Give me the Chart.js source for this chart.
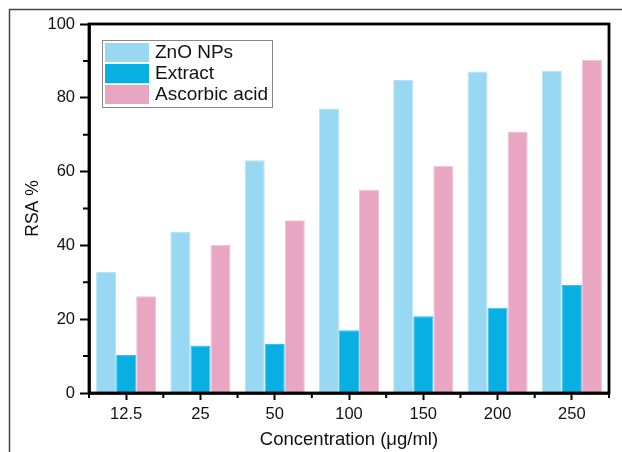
<!DOCTYPE html>
<html>
<head>
<meta charset="utf-8">
<script src="https://cdn.jsdelivr.net/npm/chart.js@4.4.1/dist/chart.umd.min.js"></script>
<style>
  html, body { margin: 0; padding: 0; background: #fff; }
  #wrap { width: 622px; height: 452px; position: relative; }
</style>
</head>
<body>
<div id="wrap"><canvas id="rsaChart" width="622" height="452"></canvas></div>
<script>
// values
const concentrations = ["12.5", "25", "50", "100", "150", "200", "250"];
const znoNPs = [32.8, 43.6, 63.1, 77.1, 84.8, 87.1, 87.3];
const extract = [10.3, 12.9, 13.3, 17.0, 20.8, 23.1, 29.3];
const ascorbicAcid = [26.2, 40.2, 46.8, 55.1, 61.6, 70.9, 90.3];
const yTicks = [0, 20, 40, 60, 80, 100];

const FONT = "'Liberation Sans', Arial, sans-serif";

// frame, box, minor ticks and the in-plot legend
const decorations = {
  id: "decorations",
  beforeDraw(chart) {
    const ctx = chart.ctx;
    ctx.save();
    ctx.strokeStyle = "#444";
    ctx.lineWidth = 1.5;
    ctx.beginPath();
    ctx.moveTo(9.5, 460);
    ctx.lineTo(9.5, 9.5);
    ctx.lineTo(630, 9.5);
    ctx.stroke();
    ctx.restore();
  },
  afterDraw(chart) {
    const ctx = chart.ctx;
    const a = chart.chartArea;
    const x = chart.scales.x;
    const y = chart.scales.y;
    ctx.save();
    ctx.strokeStyle = "#000";
    ctx.lineWidth = 2.8;
    ctx.strokeRect(a.left, a.top, a.right - a.left, a.bottom - a.top);

    // minor y ticks at the odd tens
    ctx.lineWidth = 2;
    ctx.beginPath();
    for (let v = 10; v < 100; v += 20) {
      const py = y.getPixelForValue(v);
      ctx.moveTo(a.left, py);
      ctx.lineTo(a.left - 6, py);
    }
    // minor x ticks between groups
    for (let i = 0; i <= concentrations.length; i++) {
      const px = x.getPixelForValue(i - 0.5);
      ctx.moveTo(px, a.bottom);
      ctx.lineTo(px, a.bottom + 5);
    }
    ctx.stroke();

    // legend box
    const lx = 102, ly = 40, lw = 170, lh = 67;
    ctx.fillStyle = "#fff";
    ctx.fillRect(lx, ly, lw, lh);
    ctx.strokeStyle = "#888";
    ctx.lineWidth = 1;
    ctx.strokeRect(lx + 0.5, ly + 0.5, lw, lh);
    ctx.font = "19px " + FONT;
    ctx.textBaseline = "middle";
    chart.data.datasets.forEach((ds, i) => {
      const ry = ly + 3 + i * 21;
      ctx.fillStyle = ds.backgroundColor;
      ctx.fillRect(lx + 3, ry, 44, 19);
      ctx.fillStyle = "#111";
      ctx.fillText(ds.label, lx + 53, ry + 10);
    });
    ctx.restore();
  }
};

new Chart(document.getElementById("rsaChart"), {
  type: "bar",
  data: {
    labels: concentrations,
    datasets: [
      { label: "ZnO NPs", data: znoNPs, backgroundColor: "#99d8f2", borderColor: "#b5e3f6", borderWidth: 1 },
      { label: "Extract", data: extract, backgroundColor: "#08afe2", borderColor: "#3cc0ea", borderWidth: 1 },
      { label: "Ascorbic acid", data: ascorbicAcid, backgroundColor: "#e9a6c2", borderColor: "#f0bfd3", borderWidth: 1 }
    ]
  },
  options: {
    responsive: false,
    animation: false,
    layout: { padding: { left: 0, top: 24, right: 13, bottom: 0 } },
    datasets: { bar: { categoryPercentage: 0.81, barPercentage: 1 } },
    plugins: { legend: { display: false }, tooltip: { enabled: false } },
    scales: {
      x: {
        grid: { display: true, offset: false, drawOnChartArea: false, drawTicks: true, tickLength: 7, tickColor: "#000", tickWidth: 2 },
        border: { display: true, color: "#000", width: 2.8 },
        ticks: { color: "#111", font: { family: FONT, size: 16.5 }, padding: 5, maxRotation: 0 },
        title: { display: true, text: "Concentration (μg/ml)", color: "#111", font: { family: FONT, size: 18.5 }, padding: { top: 0, bottom: 0.5 } },
        afterFit(scale) { scale.height = 59; }
      },
      y: {
        min: 0,
        max: 100,
        afterBuildTicks(scale) { scale.ticks = yTicks.map(v => ({ value: v })); },
        grid: { display: true, drawOnChartArea: false, drawTicks: true, tickLength: 9, tickColor: "#000", tickWidth: 2 },
        border: { display: true, color: "#000", width: 2.8 },
        ticks: { color: "#111", font: { family: FONT, size: 16.5 }, padding: 5 },
        title: { display: true, text: "RSA %", color: "#111", font: { family: FONT, size: 17.5 }, padding: { top: 23, bottom: 0 } },
        afterFit(scale) { scale.width = 89; }
      }
    }
  },
  plugins: [decorations]
});
</script>
</body>
</html>
